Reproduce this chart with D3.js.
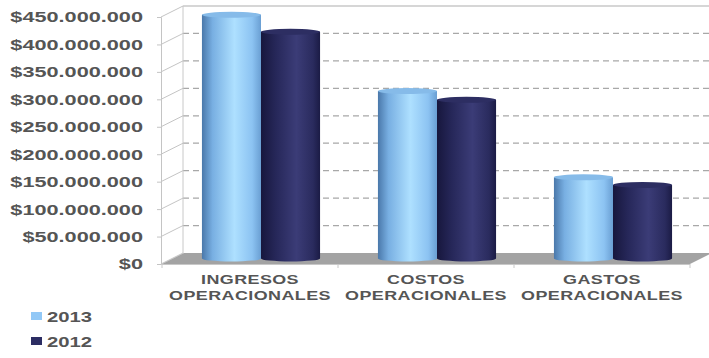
<!DOCTYPE html>
<html>
<head>
<meta charset="utf-8">
<script src="https://cdn.jsdelivr.net/npm/d3@7"></script>
<style>
	body { margin: 0; background: #fff; }
	svg { display: block; font-family: "Liberation Sans", Arial, sans-serif; }
</style>
</head>
<body>
<div id="chart"></div>
<script>
// Data
const categories = [["INGRESOS", "OPERACIONALES"], ["COSTOS", "OPERACIONALES"], ["GASTOS", "OPERACIONALES"]];
const catKeys = ["ingresos", "costos", "gastos"];
const seriesNames = ["2013", "2012"];
const values2013 = [444e6, 305e6, 148e6];
const values2012 = [413e6, 289e6, 134e6];
const yTicks = [0, 50e6, 100e6, 150e6, 200e6, 250e6, 300e6, 350e6, 400e6, 450e6];

const width = 709, height = 358;
const stretch = 1.38;            // text in the picture is stretched horizontally
const depth = {dx: 22, dy: -11}; // back wall offset from the front plane
const textColor = "#555555";

const svg = d3.select("#chart").append("svg")
	.attr("width", width)
	.attr("height", height);

const defs = svg.append("defs");
function cylGradient(id, stops) {
	let g = defs.append("linearGradient").attr("id", id)
		.attr("x1", "0%").attr("x2", "100%").attr("y1", "0%").attr("y2", "0%");
	stops.forEach(s => g.append("stop").attr("offset", s[0]).attr("stop-color", s[1]));
}
cylGradient("g2013", [["0%", "#4a78aa"], ["18%", "#78afe2"], ["55%", "#aee0ff"], ["85%", "#8cc3f2"], ["100%", "#6a9fd3"]]);
cylGradient("g2012", [["0%", "#17173d"], ["25%", "#262759"], ["60%", "#3b3c77"], ["88%", "#2a2b5e"], ["100%", "#1b1b45"]]);
const seriesColor = {"2013": "url(#g2013)", "2012": "url(#g2012)"};
const topColor = {"2013": "#86bbe9", "2012": "#2d2e62"};
const legendColor = {"2013": "#92c8f6", "2012": "#2c2d63"};

// Scales
const frontLeft = 161;
const y = d3.scaleLinear().domain([0, 450e6]).range([264, 17]);
const x = d3.scaleBand().domain(catKeys).range([162, 690]).padding(0);
const xs = d3.scaleBand().domain(seriesNames).range([0, x.bandwidth()])
	.paddingInner(0).paddingOuter(0.49);

// Back wall
const backLeft = frontLeft + depth.dx;
const backRight = 712;
svg.append("rect")
	.attr("x", backLeft).attr("y", y(450e6) + depth.dy)
	.attr("width", backRight - backLeft)
	.attr("height", y(0) - y(450e6))
	.attr("fill", "#fff");

svg.selectAll(".grid")
	.data(yTicks.filter(v => v > 0 && v < 450e6))
	.enter().append("line")
	.attr("x1", backLeft).attr("x2", backRight)
	.attr("y1", d => y(d) + depth.dy).attr("y2", d => y(d) + depth.dy)
	.attr("stroke", "#a8a8a8")
	.attr("stroke-width", 1.2)
	.attr("stroke-dasharray", "6,4");

svg.append("line")
	.attr("x1", backLeft).attr("x2", backRight)
	.attr("y1", y(450e6) + depth.dy).attr("y2", y(450e6) + depth.dy)
	.attr("stroke", "#c8c8c8").attr("stroke-width", 1.5);
svg.append("line")
	.attr("x1", backLeft).attr("x2", backLeft)
	.attr("y1", y(450e6) + depth.dy).attr("y2", y(0) + depth.dy)
	.attr("stroke", "#c8c8c8");

// Left wall diagonals
svg.selectAll(".diag")
	.data(yTicks)
	.enter().append("line")
	.attr("x1", frontLeft).attr("x2", backLeft)
	.attr("y1", d => y(d)).attr("y2", d => y(d) + depth.dy)
	.attr("stroke", "#c4c4c4");

// Floor
svg.append("path")
	.attr("d", "M" + 162 + "," + y(0) +
		"L" + 690 + "," + y(0) +
		"L" + (690 + depth.dx) + "," + (y(0) + depth.dy) +
		"L" + (162 + depth.dx) + "," + (y(0) + depth.dy) + "Z")
	.attr("fill", "#a3a3a3");

// Front x axis line and ticks
svg.append("line")
	.attr("x1", 162).attr("x2", 690)
	.attr("y1", y(0) + 0.5).attr("y2", y(0) + 0.5)
	.attr("stroke", "#c8c8c8");
svg.selectAll(".xtick")
	.data(catKeys.map(k => x(k)).concat([x.range()[1]]))
	.enter().append("line")
	.attr("x1", d => d).attr("x2", d => d)
	.attr("y1", y(0)).attr("y2", y(0) + 4)
	.attr("stroke", "#c8c8c8");

// Y axis
const yAxis = d3.axisLeft(y)
	.tickValues(yTicks)
	.tickSize(4)
	.tickFormat(d => "$" + d3.format(",")(d).replace(/,/g, "."));
const gy = svg.append("g")
	.attr("transform", "translate(" + frontLeft + ",0)")
	.call(yAxis);
gy.select(".domain").attr("stroke", "#c4c4c4");
gy.selectAll(".tick line").attr("stroke", "#c4c4c4");
gy.selectAll(".tick text")
	.attr("x", -18 / 1.4)
	.attr("transform", "scale(1.4,1)")
	.attr("fill", textColor)
	.style("font-size", "15.5px")
	.style("font-weight", "bold");

// Cylinders
const mid = {dx: depth.dx / 2, dy: depth.dy / 2};
const ry = 3;
const cylData = [];
catKeys.forEach((k, i) => {
	cylData.push({cat: k, s: "2013", v: values2013[i]});
	cylData.push({cat: k, s: "2012", v: values2012[i]});
});
const cyl = svg.selectAll(".cyl")
	.data(cylData)
	.enter().append("g")
	.attr("class", "cyl");
cyl.each(function(d) {
	let g = d3.select(this);
	let x0 = x(d.cat) + xs(d.s) + mid.dx,
		w = xs.bandwidth(),
		cx = x0 + w / 2,
		yb = y(0) + mid.dy,
		yt = y(d.v) + mid.dy;
	g.append("path")
		.attr("d", "M" + x0 + "," + yt +
			"L" + x0 + "," + yb +
			"A" + (w / 2) + "," + ry + " 0 0 0 " + (x0 + w) + "," + yb +
			"L" + (x0 + w) + "," + yt + "Z")
		.attr("fill", seriesColor[d.s]);
	g.append("ellipse")
		.attr("cx", cx).attr("cy", yt)
		.attr("rx", w / 2).attr("ry", ry)
		.attr("fill", topColor[d.s]);
});

// Category labels
const catLabel = svg.selectAll(".cat")
	.data(categories)
	.enter().append("text")
	.attr("transform", (d, i) => "translate(" + (x(catKeys[i]) + x.bandwidth() / 2) + ",0) scale(" + stretch + ",1)")
	.attr("text-anchor", "middle")
	.attr("fill", textColor)
	.style("font-size", "13px")
	.style("font-weight", "bold")
	.style("letter-spacing", "0.3px");
catLabel.append("tspan").attr("x", 0).attr("y", 284).text(d => d[0]);
catLabel.append("tspan").attr("x", 0).attr("y", 300).text(d => d[1]);

// Legend
const legend = svg.selectAll(".legend")
	.data(seriesNames)
	.enter().append("g")
	.attr("transform", (d, i) => "translate(31," + (312 + i * 25) + ")");
legend.append("rect")
	.attr("width", 11).attr("height", 8)
	.attr("fill", d => legendColor[d]);
legend.append("text")
	.attr("transform", "translate(16,10) scale(1.45,1)")
	.attr("fill", textColor)
	.style("font-size", "14px")
	.style("font-weight", "bold")
	.text(d => d);
</script>
</body>
</html>
